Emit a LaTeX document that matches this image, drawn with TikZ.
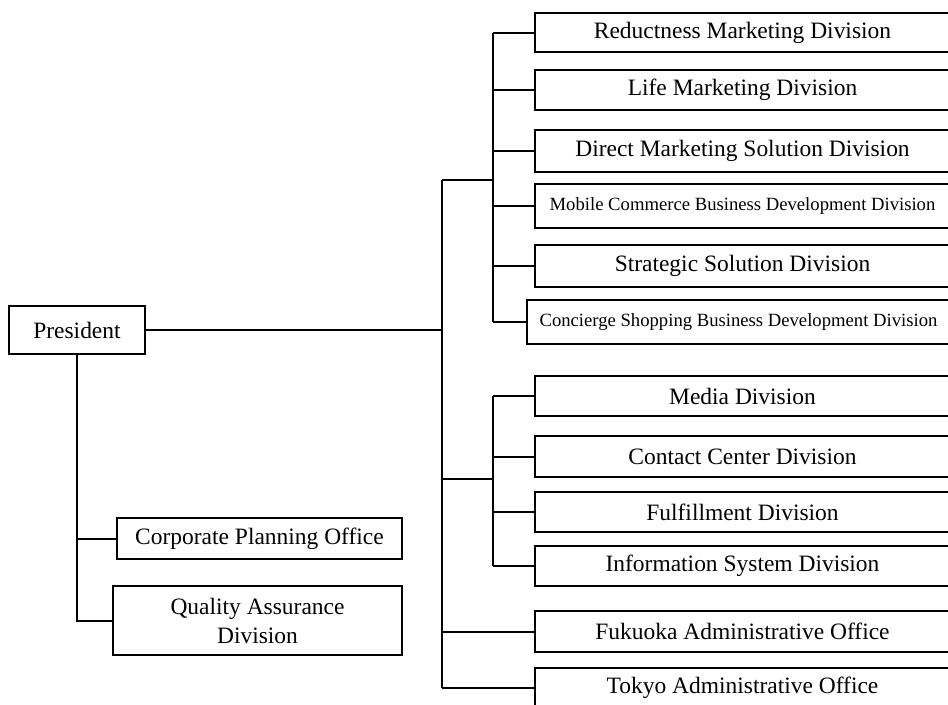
\documentclass[tikz,border=0pt]{standalone}
\usepackage{fontspec}
\setmainfont{Liberation Serif}
\usepackage{tikz}

\begin{document}
\begin{tikzpicture}[x=0.75pt,y=0.75pt,yscale=-1,xscale=1,
    unit/.style={draw,rectangle,line width=1.2pt,inner sep=0pt,align=center,
        font=\fontsize{17.6}{21.8}\selectfont},
    smallunit/.style={unit,font=\fontsize{14}{17}\selectfont},
    divbox/.style={unit,minimum width=311.25pt,minimum height=30pt},
    link/.style={line width=1.5pt}]
    \useasboundingbox (0,0) rectangle (948,704);
    \clip (0,0) rectangle (948,704);

    \node [unit,minimum width=102pt,minimum height=36pt] (pres) at (77,330) {President};
    \node [unit,minimum width=213.75pt,minimum height=30.75pt] (corp) at (259.5,538.5) {Corporate Planning Office};
    \node [unit,minimum width=216.75pt,minimum height=51.75pt] (qual) at (257.5,620.5) {Quality Assurance\\Division};

    \node [divbox,minimum height=29.25pt] (redu) at (742.5,32.5) {Reductness Marketing Division};
    \node [divbox] (life) at (742.5,90) {Life Marketing Division};
    \node [divbox,minimum height=31.5pt] (dirm) at (742.5,151) {Direct Marketing Solution Division};
    \node [divbox,smallunit,minimum height=33pt] (mobi) at (742.5,206) {Mobile Commerce Business Development Division};
    \node [divbox,minimum height=31.5pt] (strat) at (742.5,266) {Strategic Solution Division};
    \node [divbox,smallunit,minimum width=317.25pt,minimum height=33pt] (conc) at (738.5,322) {Concierge Shopping Business Development Division};

    \node [divbox] (media) at (742.5,396) {Media Division};
    \node [divbox,minimum height=30.75pt] (cont) at (742.5,456.5) {Contact Center Division};
    \node [divbox] (fulf) at (742.5,512) {Fulfillment Division};
    \node [divbox] (info) at (742.5,566) {Information System Division};
    \node [divbox,minimum height=30.75pt] (fuku) at (742.5,631.5) {Fukuoka Administrative Office};
    \node [divbox] (tokyo) at (742.5,688) {Tokyo Administrative Office};

    \coordinate (obus) at (442,0);
    \coordinate (ibus) at (493,0);
    \coordinate (upjoin) at (442,180);
    \coordinate (lowjoin) at (442,479);

    % president to the staff offices
    \draw [link] (pres.south) |- (qual.west);
    \draw [link] (corp.west) -- (corp.west -| pres.south);

    % president to the outer bus
    \draw [link] (pres.east) -- (pres.east -| obus);
    \draw [link] (upjoin) -- (tokyo.west -| obus);
    \draw [link] (upjoin) -- (upjoin -| ibus);
    \draw [link] (lowjoin) -- (lowjoin -| ibus);

    % upper group
    \draw [link] (redu.west -| ibus) -- (conc.west -| ibus);
    \foreach \n in {redu,life,dirm,mobi,strat,conc}
        \draw [link] (\n.west) -- (\n.west -| ibus);

    % lower group
    \draw [link] (media.west -| ibus) -- (info.west -| ibus);
    \foreach \n in {media,cont,fulf,info}
        \draw [link] (\n.west) -- (\n.west -| ibus);
    \foreach \n in {fuku,tokyo}
        \draw [link] (\n.west) -- (\n.west -| obus);
\end{tikzpicture}
\end{document}
